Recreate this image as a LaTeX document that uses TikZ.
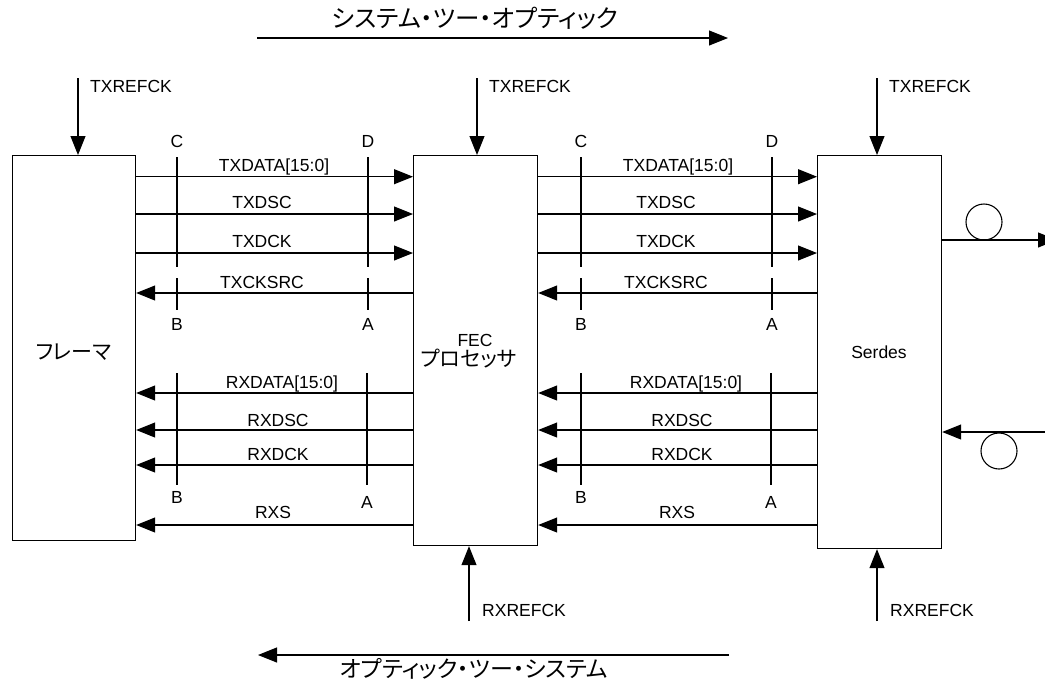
\documentclass[tikz,border=0pt]{standalone}
\usepackage{fontspec}
\setmainfont{Liberation Sans}
\newfontfamily\jp{Noto Sans CJK JP}[RawFeature=+palt]
\usetikzlibrary{arrows.meta,calc}
\begin{document}
\begin{tikzpicture}[x=1pt,y=-1pt,
  box/.style={draw,line width=1.2pt,inner sep=0pt,anchor=north west},
  lbl/.style={font=\fontsize{17.5}{18}\selectfont,inner sep=0pt,anchor=base},
  jlbl/.style={font=\jp\fontsize{21}{24}\selectfont,inner sep=0pt,anchor=center},
  title/.style={font=\jp\fontsize{24.5}{28}\selectfont,inner sep=0pt,anchor=center},
  sig/.style={line width=1.1pt,-{Triangle[length=19pt,width=15pt]}},
  tick/.style={line width=1.1pt},
  fiber/.style={draw,circle,line width=1.1pt,minimum size=36pt,inner sep=0pt}]
\useasboundingbox (0,0) rectangle (1045,681);
% boxes
\node[box,minimum width=123pt,minimum height=385pt] (frm) at (12,155) {};
\node[box,minimum width=124pt,minimum height=390pt] (fec) at (413,155) {};
\node[box,minimum width=124pt,minimum height=393pt] (ser) at (817,155) {};
\node[jlbl] (frmt) at (73.5,352) {フレーマ};
\node[lbl] (fect) at (475,346) {FEC};
\node[jlbl] (fecj) at (469,359) {プロセッサ};
\node[lbl] (sert) at (879,358) {Serdes};
% titles
\node[title] (t1) at (475,18) {システム・ツー・オプティック};
\coordinate (s1) at (257,38); \coordinate (s2) at (728,38);
\draw[sig] (s1) -- (s2);
\node[title,font=\jp\fontsize{23}{26}\selectfont] (t2) at (474,669) {オプティック・ツー・システム};
\coordinate (b1) at (729,655); \coordinate (b2) at (258,655);
\draw[sig] (b1) -- (b2);
% reference clocks
\foreach \n/\bx/\x in {1/frm/78,2/fec/477,3/ser/877}{
  \coordinate (tr\n) at (\x,78);
  \draw[sig] (tr\n) -- (tr\n |- \bx.north);
  \node[lbl,anchor=base west] (trl\n) at (\x+12,92) {TXREFCK};
}
\foreach \n/\bx/\x in {2/fec/469,3/ser/877}{
  \coordinate (rr\n) at (\x,621);
  \draw[sig] (rr\n) -- (rr\n |- \bx.south);
  \node[lbl,anchor=base west] (rrl\n) at (\x+13,616) {RXREFCK};
}
% signal rows
\coordinate (y1) at (0,176.7);
\coordinate (y2) at (0,214);
\coordinate (y3) at (0,253);
\coordinate (y4) at (0,293);
\coordinate (y5) at (0,393);
\coordinate (y6) at (0,430);
\coordinate (y7) at (0,465);
\coordinate (y8) at (0,525);
\foreach \L/\R/\o/\s in {frm/fec/0/a,fec/ser/404/b}{
  \draw[sig] (\L.east |- y1) -- (\R.west |- y1);
  \draw[sig] (\L.east |- y2) -- (\R.west |- y2);
  \draw[sig] (\L.east |- y3) -- (\R.west |- y3);
  \draw[sig] (\R.west |- y4) -- (\L.east |- y4);
  \draw[sig] (\R.west |- y5) -- (\L.east |- y5);
  \draw[sig] (\R.west |- y6) -- (\L.east |- y6);
  \draw[sig] (\R.west |- y7) -- (\L.east |- y7);
  \draw[sig] (\R.west |- y8) -- (\L.east |- y8);
  \node[lbl] (l1\s) at (274+\o,171) {TXDATA[15:0]};
  \node[lbl] (l2\s) at (262+\o,208) {TXDSC};
  \node[lbl] (l3\s) at (262+\o,247) {TXDCK};
  \node[lbl] (l4\s) at (262+\o,288) {TXCKSRC};
  \node[lbl] (l5\s) at (282+\o,388) {RXDATA[15:0]};
  \node[lbl] (l6\s) at (278+\o,426) {RXDSC};
  \node[lbl] (l7\s) at (278+\o,460) {RXDCK};
  \node[lbl] (l8\s) at (273+\o,518) {RXS};
  % tick lines
  \draw[tick] (177+\o,157) -- (177+\o,267) (177+\o,278) -- (177+\o,310);
  \draw[tick] (368+\o,157) -- (368+\o,267) (368+\o,278) -- (368+\o,310);
  \draw[tick] (177+\o,373) -- (177+\o,485);
  \draw[tick] (367+\o,373) -- (367+\o,485);
  \node[lbl] (c\s) at (177+\o,147) {C};
  \node[lbl] (d\s) at (368+\o,147) {D};
  \node[lbl] (bt\s) at (177+\o,330) {B};
  \node[lbl] (at\s) at (368+\o,330) {A};
  \node[lbl] (bb\s) at (177+\o,503) {B};
  \node[lbl] (ab\s) at (367+\o,508) {A};
}
% optical ports
\coordinate (out) at (1057,240);
\draw[sig] (ser.east |- out) -- (out);
\node[fiber] (f1) at (984,222) {};
\coordinate (in) at (1046,432);
\draw[sig] (in) -- (ser.east |- in);
\node[fiber] (f2) at (999,451) {};
\end{tikzpicture}
\end{document}
